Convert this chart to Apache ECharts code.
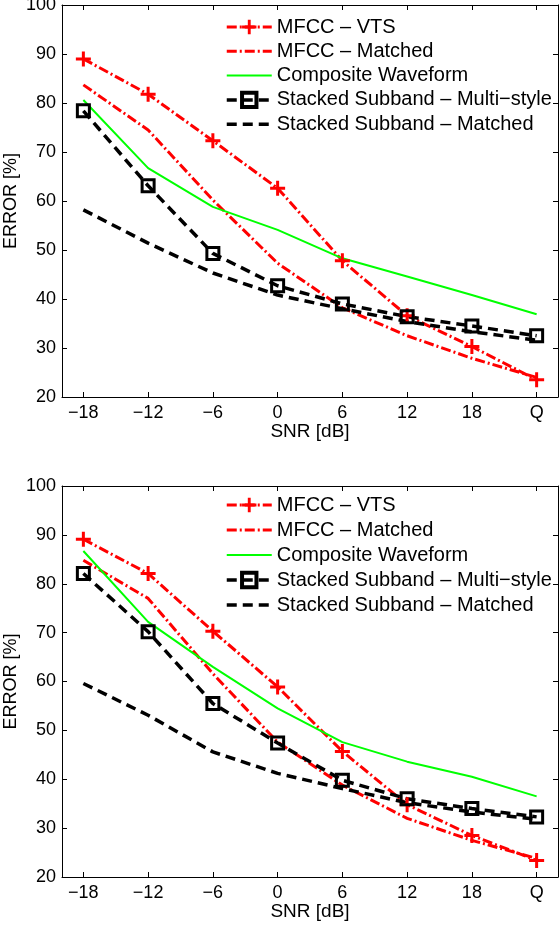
<!DOCTYPE html>
<html>
<head>
<meta charset="utf-8">
<script src="https://cdn.jsdelivr.net/npm/echarts@6/dist/echarts.min.js"></script>
<style>
html,body{margin:0;padding:0;background:#fff;}
#chart{width:560px;height:926px;}
</style>
</head>
<body>
<div id="chart"></div>
<script>
// ---- data ----
const xLabels = ['\u221218', '\u221212', '\u22126', '0', '6', '12', '18', 'Q'];
const yTicks = [20, 30, 40, 50, 60, 70, 80, 90, 100];
const seriesNames = ['MFCC \u2013 VTS', 'MFCC \u2013 Matched', 'Composite Waveform', 'Stacked Subband \u2013 Multi\u2212style', 'Stacked Subband \u2013 Matched'];

// top panel
const vtsTop        = [89.0, 81.8, 72.3, 62.6, 47.8, 36.6, 30.3, 23.5];
const mfccMatchTop  = [83.7, 74.5, 60.2, 47.3, 38.2, 32.5, 27.9, 24.0];
const compositeTop  = [80.6, 66.7, 58.8, 54.1, 48.3, 44.6, 40.8, 36.9];
const multiTop      = [78.4, 63.1, 49.3, 42.7, 39.0, 36.4, 34.5, 32.5];
const stMatchTop    = [58.2, 51.4, 45.3, 40.8, 38.0, 35.4, 33.3, 31.6];

// bottom panel
const vtsBot        = [89.1, 82.1, 70.3, 58.9, 45.7, 34.8, 28.5, 23.4];
const mfccMatchBot  = [84.8, 77.0, 61.6, 47.6, 38.8, 32.0, 27.5, 23.8];
const compositeBot  = [86.7, 72.2, 63.0, 54.5, 47.6, 43.6, 40.5, 36.5];
const multiBot      = [82.1, 70.2, 55.5, 47.4, 39.8, 36.0, 34.0, 32.3];
const stMatchBot    = [59.6, 53.1, 45.6, 41.2, 38.1, 35.2, 33.3, 31.8];

// ---- chart ----
const FONT = "'Liberation Sans', Arial, Helvetica, sans-serif";
const idx = xLabels.map((_, i) => i);
const pairs = arr => arr.map((v, i) => [i, v]);
const PLUS = 'path://M6.4,0H9.6V6.4H16V9.6H9.6V16H6.4V9.6H0V6.4H6.4Z';
const RED = '#ff0000', GREEN = '#00ff00', BLACK = '#000000';
const DASHDOT = [10, 3, 2, 3], DASH = [10, 6];

const grids = [
  {left: 62, top: 5, width: 496, height: 392, outerBoundsMode: 'none'},
  {left: 62, top: 486, width: 496, height: 391, outerBoundsMode: 'none'}
];

const xAxes = [], yAxes = [];
grids.forEach((g, gi) => {
  xAxes.push({
    gridIndex: gi, type: 'value', position: 'bottom', min: -0.33, max: 7.33,
    axisLine: {onZero: false, lineStyle: {color: BLACK, width: 1}},
    axisTick: {inside: true, length: 5, customValues: idx, lineStyle: {color: BLACK}},
    axisLabel: {customValues: idx, formatter: v => xLabels[Math.round(v)], fontSize: 18, color: BLACK, fontFamily: FONT, margin: 7},
    splitLine: {show: false},
    name: 'SNR [dB]', nameLocation: 'middle', nameGap: 25, nameMoveOverlap: false,
    nameTextStyle: {fontSize: 19, color: BLACK, fontFamily: FONT}
  });
  xAxes.push({
    gridIndex: gi, type: 'value', position: 'top', min: -0.33, max: 7.33,
    axisLine: {onZero: false, lineStyle: {color: BLACK, width: 1}},
    axisTick: {inside: true, length: 5, customValues: idx, lineStyle: {color: BLACK}},
    axisLabel: {show: false},
    splitLine: {show: false}
  });
  yAxes.push({
    gridIndex: gi, type: 'value', position: 'left', min: yTicks[0], max: yTicks[yTicks.length - 1], interval: 10,
    axisLine: {show: true, onZero: false, lineStyle: {color: BLACK, width: 1}},
    axisTick: {show: true, inside: true, length: 5, lineStyle: {color: BLACK}},
    axisLabel: {fontSize: 18, color: BLACK, fontFamily: FONT, margin: 6},
    splitLine: {show: false},
    name: 'ERROR [%]', nameLocation: 'middle', nameGap: 42, nameRotate: 90, nameMoveOverlap: false,
    nameTextStyle: {fontSize: 18, color: BLACK, fontFamily: FONT}
  });
  yAxes.push({
    gridIndex: gi, type: 'value', position: 'right', min: yTicks[0], max: yTicks[yTicks.length - 1], interval: 10,
    axisLine: {show: true, onZero: false, lineStyle: {color: BLACK, width: 1}},
    axisTick: {show: true, inside: true, length: 5, lineStyle: {color: BLACK}},
    axisLabel: {show: false},
    splitLine: {show: false}
  });
});

function panelSeries(gi, vts, mfccMatch, composite, multi, stMatch) {
  const base = {type: 'line', xAxisIndex: gi * 2, yAxisIndex: gi * 2, animation: false, z: 2};
  return [
    Object.assign({}, base, {
      name: seriesNames[0], data: pairs(vts), symbol: PLUS, symbolSize: 15,
      itemStyle: {color: RED},
      lineStyle: {color: RED, width: 3, type: DASHDOT}
    }),
    Object.assign({}, base, {
      name: seriesNames[1], data: pairs(mfccMatch), symbol: 'none',
      itemStyle: {color: RED},
      lineStyle: {color: RED, width: 3, type: DASHDOT}
    }),
    Object.assign({}, base, {
      name: seriesNames[2], data: pairs(composite), symbol: 'none',
      itemStyle: {color: GREEN},
      lineStyle: {color: GREEN, width: 2, type: 'solid'}
    }),
    Object.assign({}, base, {
      name: seriesNames[3], data: pairs(multi), symbol: 'rect', symbolSize: 12,
      itemStyle: {color: 'rgba(0,0,0,0)', borderColor: BLACK, borderWidth: 3},
      lineStyle: {color: BLACK, width: 3.5, type: DASH}
    }),
    Object.assign({}, base, {
      name: seriesNames[4], data: pairs(stMatch), symbol: 'none',
      itemStyle: {color: BLACK},
      lineStyle: {color: BLACK, width: 3.5, type: DASH}
    })
  ];
}

const hidden = {opacity: 0};
const legendData = [
  {name: seriesNames[0], lineStyle: {width: 3, type: DASHDOT}},
  {name: seriesNames[1], itemStyle: hidden, lineStyle: {width: 3, type: DASHDOT}},
  {name: seriesNames[2], itemStyle: hidden, lineStyle: {width: 2}},
  {name: seriesNames[3], itemStyle: {borderWidth: 4, borderColor: BLACK, color: 'rgba(0,0,0,0)'}, lineStyle: {width: 3.5, type: DASH}},
  {name: seriesNames[4], itemStyle: hidden, lineStyle: {width: 3.5, type: DASH}}
];

const legendBase = {
  orient: 'vertical', left: 225, padding: 0, itemWidth: 45, itemHeight: 18,
  selectedMode: false, data: legendData,
  textStyle: {fontSize: 20, color: BLACK, fontFamily: FONT, lineHeight: 20}
};

const option = {
  backgroundColor: '#fff',
  animation: false,
  grid: grids,
  xAxis: xAxes,
  yAxis: yAxes,
  legend: [
    Object.assign({}, legendBase, {top: 17, itemGap: 4.3}),
    Object.assign({}, legendBase, {top: 495, itemGap: 5})
  ],
  series: panelSeries(0, vtsTop, mfccMatchTop, compositeTop, multiTop, stMatchTop)
    .concat(panelSeries(1, vtsBot, mfccMatchBot, compositeBot, multiBot, stMatchBot))
};

const chart = echarts.init(document.getElementById('chart'), null, {renderer: 'canvas'});
chart.setOption(option);
</script>
</body>
</html>
